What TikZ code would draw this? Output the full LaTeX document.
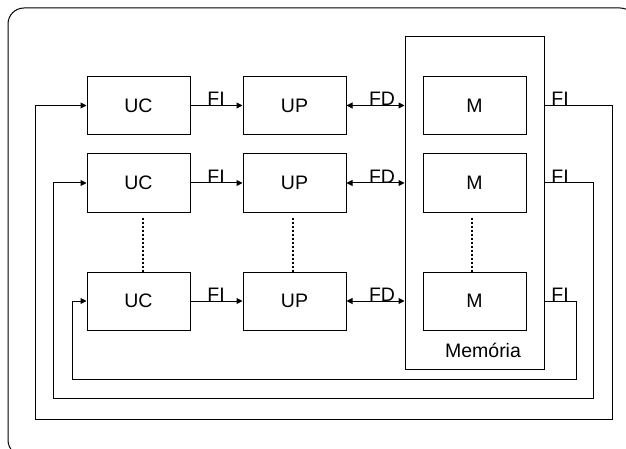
\documentclass[tikz,border=0pt]{standalone}
\usepackage{fontspec}
\setmainfont{Liberation Sans}
\usetikzlibrary{arrows.meta}
\begin{document}
\begin{tikzpicture}[x=1pt,y=-1pt,
  txt/.style={font=\fontsize{19.5}{22}\selectfont},
  box/.style={draw, line width=1pt, minimum width=103pt, minimum height=58pt, inner sep=0pt, txt},
  lab/.style={anchor=base, inner sep=0pt, txt},
  conn/.style={line width=1pt, -{Triangle[length=6pt,width=6pt]}},
  biconn/.style={line width=1pt, {Triangle[length=6pt,width=6pt]}-{Triangle[length=6pt,width=6pt]}},
  ret/.style={line width=1pt, -{Triangle[length=6pt,width=6pt]}},
  dotline/.style={line width=2pt, dash pattern=on 2pt off 2pt}]
\useasboundingbox (0,0) rectangle (626,449);
\draw[line width=1pt, rounded corners=16pt] (8,8) rectangle (636,456);

% memory container
\node[draw, line width=1pt, minimum width=139pt, minimum height=332pt, inner sep=0pt] (mem) at (474.5,203) {};
\node[lab] (memlab) at (483,357) {Memória};

% rows
\node[box] (uc1) at (138.5,105.5) {UC};
\node[box] (up1) at (294.5,105.5) {UP};
\node[box] (m1)  at (474.5,105.5) {M};
\node[box] (uc2) at (138.5,183) {UC};
\node[box] (up2) at (294.5,183) {UP};
\node[box] (m2)  at (474.5,183) {M};
\node[box] (uc3) at (138.5,301) {UC};
\node[box] (up3) at (294.5,301) {UP};
\node[box] (m3)  at (474.5,301) {M};

% forward connectors
\foreach \i in {1,2,3}{
  \draw[conn] (uc\i) -- (up\i);
  \draw[biconn] (up\i.east) -- (mem.west |- up\i.east);
}
\node[lab] (fi1) at (216,106) {FI};
\node[lab] (fi2) at (216,183.5) {FI};
\node[lab] (fi3) at (216,301.5) {FI};
\node[lab] (fd1) at (382,106) {FD};
\node[lab] (fd2) at (382,183.5) {FD};
\node[lab] (fd3) at (382,301.5) {FD};
\node[lab] (fo1) at (560,106) {FI};
\node[lab] (fo2) at (560,183.5) {FI};
\node[lab] (fo3) at (560,301.5) {FI};

% return loops
\coordinate (r1) at (612,419);
\coordinate (l1) at (35,419);
\coordinate (r2) at (593,398);
\coordinate (l2) at (53,398);
\coordinate (r3) at (576,379);
\coordinate (l3) at (72,379);
\foreach \i in {1,2,3}{
  \draw[ret] (mem.east |- m\i.east) -| (r\i) -- (l\i) |- (uc\i.west);
}

% dotted continuation
\draw[dotline] ([xshift=4.5pt,yshift=-5pt]uc2.south) -- ([xshift=4.5pt]uc3.north);
\draw[dotline] ([xshift=-1.5pt,yshift=-5pt]up2.south) -- ([xshift=-1.5pt]up3.north);
\draw[dotline] ([xshift=-2.5pt,yshift=-5pt]m2.south) -- ([xshift=-2.5pt]m3.north);
\end{tikzpicture}
\end{document}
